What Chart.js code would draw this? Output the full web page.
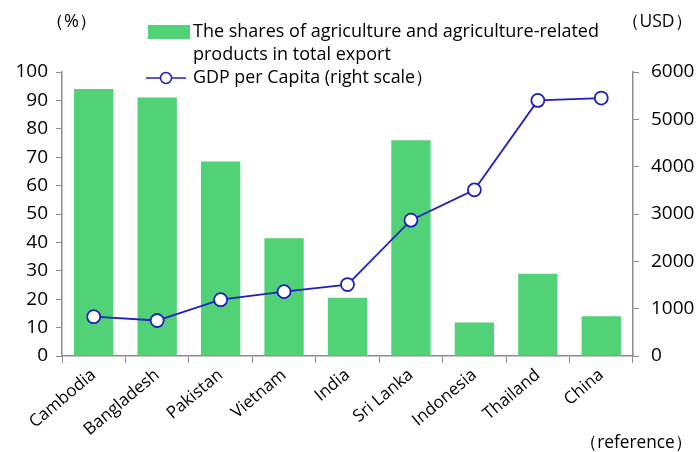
<!DOCTYPE html>
<html>
<head>
<meta charset="utf-8">
<script src="https://cdn.jsdelivr.net/npm/chart.js@4.4.1/dist/chart.umd.min.js"></script>
<style>
  html, body { margin: 0; padding: 0; background: #fff; }
  #wrap { position: relative; width: 697px; height: 452px; }
</style>
</head>
<body>
<div id="wrap"><canvas id="agriChart" width="697" height="452"></canvas></div>
<script>
// data
var categories = ['Cambodia', 'Bangladesh', 'Pakistan', 'Vietnam', 'India', 'Sri Lanka', 'Indonesia', 'Thailand', 'China'];
var agriShares = [94, 91, 68.5, 41.5, 20.5, 76, 11.8, 29, 14];       // %
var gdpPerCapita = [830, 750, 1190, 1360, 1510, 2870, 3510, 5400, 5450]; // USD
var leftMax = 100, leftStep = 10;
var rightMax = 6000, rightStep = 1000;

var green = '#52d276';
var blue = '#1f1fc0';
var axisGray = '#8c8c8c';
var fontFamily = '"Open Sans", "DejaVu Sans", sans-serif';

// legend and unit labels drawn on top of the chart
var overlayText = {
    id: 'overlayText',
    afterDraw: function(chart) {
        var ctx = chart.ctx;
        ctx.save();
        ctx.fillStyle = '#000';
        ctx.textBaseline = 'middle';
        ctx.font = '18px ' + fontFamily;

        ctx.textAlign = 'left';
        ctx.fillText('（%）', 46, 22);
        ctx.fillText('（USD）', 622, 22, 70);
        ctx.fillText('（reference）', 580, 443, 112);

        // bar legend
        ctx.fillStyle = green;
        ctx.fillRect(148, 25, 42, 14);
        ctx.fillStyle = '#000';
        ctx.fillText('The shares of agriculture and agriculture-related', 193, 32, 420);
        ctx.fillText('products in total export', 193, 55, 207);

        // line legend
        ctx.strokeStyle = blue;
        ctx.lineWidth = 1.5;
        ctx.beginPath();
        ctx.moveTo(146, 78);
        ctx.lineTo(186, 78);
        ctx.stroke();
        ctx.beginPath();
        ctx.arc(166, 78, 5.5, 0, Math.PI * 2);
        ctx.fillStyle = '#fff';
        ctx.fill();
        ctx.stroke();
        ctx.fillStyle = '#000';
        ctx.fillText('GDP per Capita (right scale）', 193, 78, 240);
        ctx.restore();
    }
};

var ctx = document.getElementById('agriChart').getContext('2d');
new Chart(ctx, {
    type: 'bar',
    data: {
        labels: categories,
        datasets: [{
            type: 'line',
            label: 'GDP per Capita (right scale）',
            data: gdpPerCapita,
            yAxisID: 'yRight',
            borderColor: blue,
            borderWidth: 1.8,
            pointRadius: 6.5,
            pointBorderWidth: 1.8,
            pointBackgroundColor: '#fff',
            pointBorderColor: blue,
            tension: 0,
            order: 0
        }, {
            type: 'bar',
            label: 'The shares of agriculture and agriculture-related products in total export',
            data: agriShares,
            yAxisID: 'yLeft',
            backgroundColor: green,
            categoryPercentage: 1.0,
            barPercentage: 0.62,
            order: 1
        }]
    },
    options: {
        responsive: false,
        animation: false,
        layout: { padding: { top: 72, right: 0, left: 0, bottom: 0 } },
        plugins: {
            legend: { display: false },
            tooltip: { enabled: false }
        },
        scales: {
            x: {
                grid: { display: true, drawOnChartArea: false, drawTicks: true, tickLength: 7, color: axisGray, offset: true },
                border: { display: true, color: axisGray, width: 1.5 },
                ticks: {
                    color: '#000',
                    font: { family: fontFamily, size: 17 },
                    maxRotation: 40,
                    minRotation: 40,
                    padding: 2
                },
                afterFit: function(scale) { scale.height = 96; }
            },
            yLeft: {
                position: 'left',
                min: 0,
                max: leftMax,
                grid: { display: true, drawOnChartArea: false, drawTicks: true, tickLength: 6, color: axisGray },
                border: { display: true, color: axisGray, width: 1.5 },
                ticks: {
                    stepSize: leftStep,
                    color: '#000',
                    font: { family: fontFamily, size: 19 },
                    padding: 8
                },
                afterFit: function(scale) { scale.width = 62; }
            },
            yRight: {
                position: 'right',
                min: 0,
                max: rightMax,
                grid: { display: true, drawOnChartArea: false, drawTicks: true, tickLength: 6, color: axisGray },
                border: { display: true, color: axisGray, width: 1.5 },
                ticks: {
                    stepSize: rightStep,
                    color: '#000',
                    font: { family: fontFamily, size: 19 },
                    padding: 12,
                    callback: function(value) { return String(value); }
                },
                afterFit: function(scale) { scale.width = 64; }
            }
        }
    },
    plugins: [overlayText]
});
</script>
</body>
</html>
